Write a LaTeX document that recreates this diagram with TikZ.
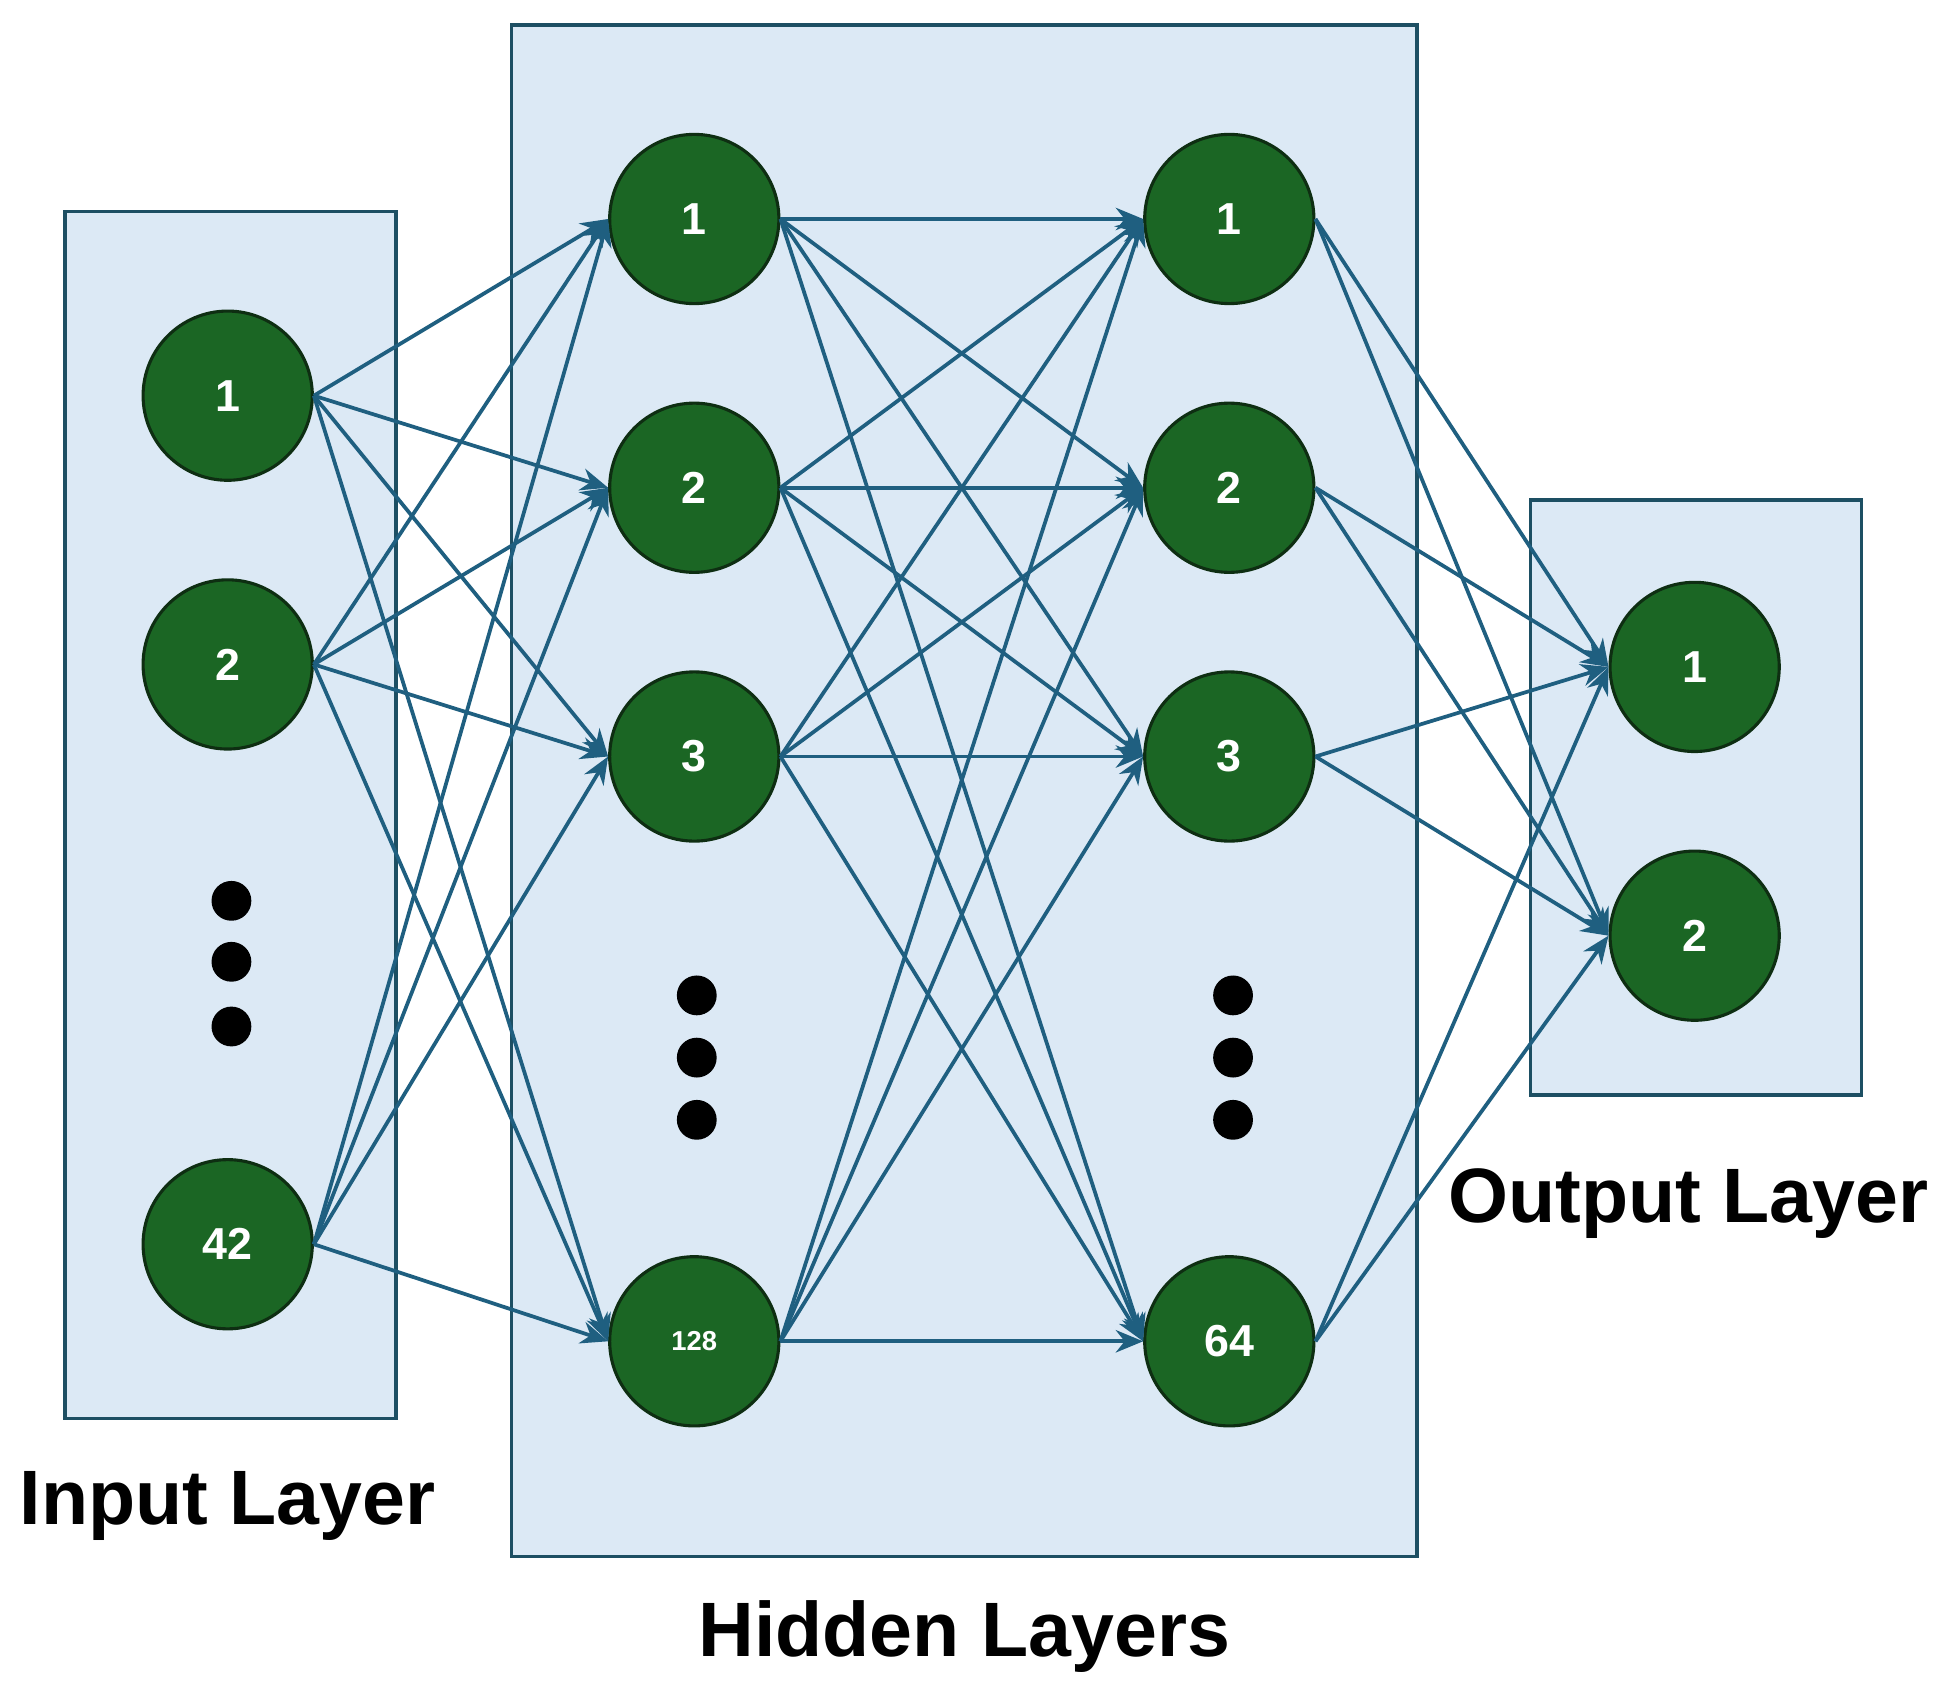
\documentclass[tikz,border=0pt]{standalone}
\usepackage{fontspec}
\setmainfont{Liberation Sans}
\usetikzlibrary{arrows.meta}
\definecolor{boxfill}{HTML}{DCE9F5}
\definecolor{boxline}{HTML}{1D4F63}
\definecolor{nodefill}{HTML}{1B6624}
\definecolor{nodeline}{HTML}{0E2E12}
\definecolor{edge}{HTML}{1F5F80}
\begin{document}
\begin{tikzpicture}[x=1pt,y=-1pt,
  box/.style={draw=boxline,fill=boxfill,line width=3pt},
  neuron/.style={circle,draw=nodeline,fill=nodefill,line width=2.5pt,minimum size=136pt,inner sep=0pt,text=white,font=\fontsize{36}{40}\selectfont\bfseries},
  dot/.style={circle,fill=black,minimum size=32pt,inner sep=0pt},
  conn/.style={draw=edge,line width=3pt,-{Stealth[length=22pt,width=18pt]}},
  lab/.style={font=\fontsize{62}{70}\selectfont\bfseries}]
\useasboundingbox (0,0) rectangle (1560,1361);
\draw[box] (52,170) rectangle (318,1140);
\draw[box] (411,20) rectangle (1139,1251);
\draw[box] (1230,402) rectangle (1496,880);
\node[neuron] (i1) at (183,318) {1};
\node[neuron] (i2) at (183,534) {2};
\node[neuron] (i3) at (183,1000) {42};
\node[neuron] (a1) at (558,176) {1};
\node[neuron] (a2) at (558,392) {2};
\node[neuron] (a3) at (558,608) {3};
\node[neuron,font=\fontsize{22}{26}\selectfont\bfseries] (a4) at (558,1078) {128};
\node[neuron] (b1) at (988,176) {1};
\node[neuron] (b2) at (988,392) {2};
\node[neuron] (b3) at (988,608) {3};
\node[neuron] (b4) at (988,1078) {64};
\node[neuron] (o1) at (1362,536) {1};
\node[neuron] (o2) at (1362,752) {2};
\foreach \n/\x/\y in {d1/186/724,d2/186/773,d3/186/825,e1/560/800,e2/560/850,e3/560/900,f1/991/800,f2/991/850,f3/991/900}
  \node[dot] (\n) at (\x,\y) {};
\foreach \s in {i1,i2,i3}\foreach \t in {a1,a2,a3,a4}\draw[conn] (\s.east) -- (\t.west);
\foreach \s in {a1,a2,a3,a4}\foreach \t in {b1,b2,b3,b4}\draw[conn] (\s.east) -- (\t.west);
\foreach \s in {b1,b2,b3,b4}\foreach \t in {o1,o2}\draw[conn] (\s.east) -- (\t.west);
\node[lab] (l1) at (183,1210) {Input Layer};
\node[lab] (l2) at (775,1315) {Hidden Layers};
\node[lab] (l3) at (1357,967) {Output Layer};
\end{tikzpicture}
\end{document}
